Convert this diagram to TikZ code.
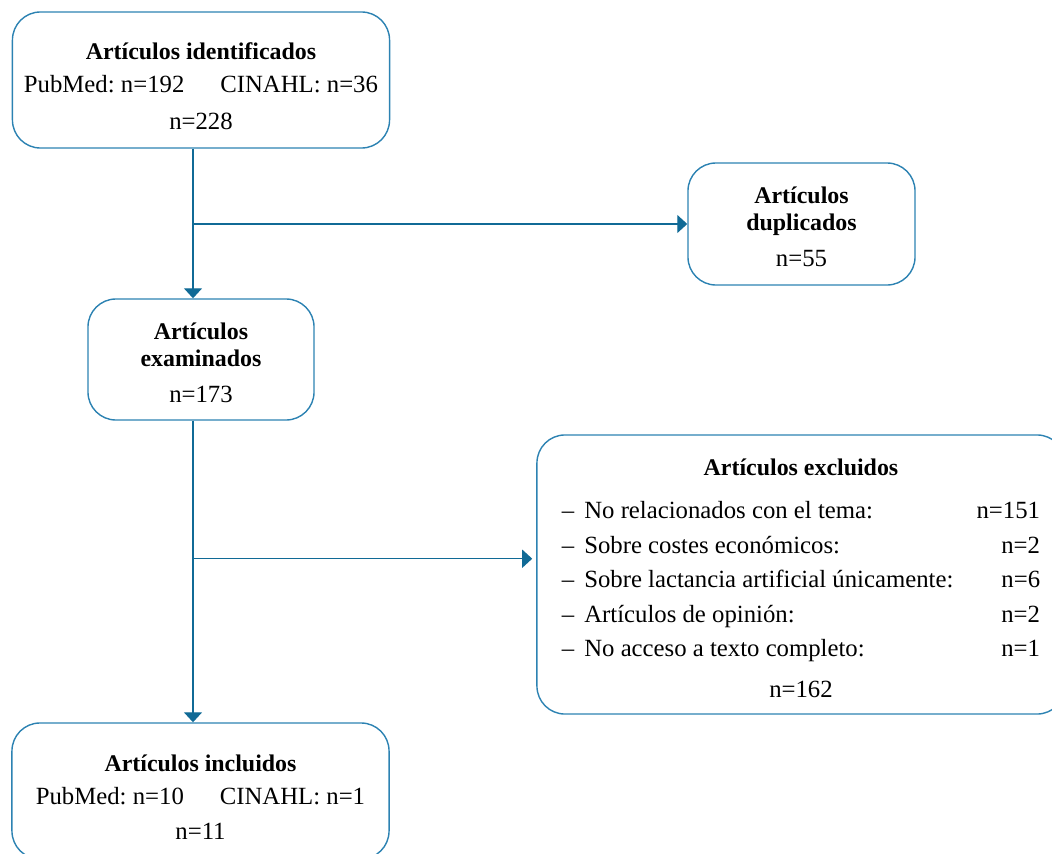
\documentclass[tikz,border=0pt]{standalone}
\usepackage{fontspec}
\setmainfont{Liberation Serif}
\usetikzlibrary{arrows.meta,calc}
\definecolor{flowblue}{RGB}{16,106,150}
\definecolor{boxblue}{RGB}{44,130,178}
\newcommand{\boxhead}[1]{{\fontsize{17}{19.2}\selectfont\bfseries #1}}
\frenchspacing

\begin{document}
\begin{tikzpicture}[x=0.025cm,y=-0.025cm,
  box/.style={draw=boxblue,line width=1pt,rounded corners=0.7cm,inner sep=0pt},
  txt/.style={align=center,inner sep=0pt,font=\fontsize{17.6}{19.2}\selectfont},
  flow/.style={draw=flowblue,line width=1pt,-{Triangle[length=0.25cm,width=0.45cm]}}]
\useasboundingbox (0,0) rectangle (1052,854);

% draw identified box
\node[box,minimum width=9.425cm,minimum height=3.4cm] (ident) at (201,80) {};
\node[txt] (ident-txt) at ($(ident)+(0,6)$) {\boxhead{Artículos identificados}\\[4.3pt]
  PubMed: n=192\hspace{0.9cm}CINAHL: n=36\\[7pt] n=228};

% draw duplicated box
\node[box,minimum width=5.675cm,minimum height=3.05cm] (dup) at (801.5,224) {};
\node[txt] (dup-txt) at ($(dup)+(0,3)$) {\boxhead{Artículos}\\\boxhead{duplicados}\\[6.4pt] n=55};

% draw screened box
\node[box,minimum width=5.65cm,minimum height=3.025cm] (exam) at (201,359.5) {};
\node[txt] (exam-txt) at ($(exam)+(0,3)$) {\boxhead{Artículos}\\\boxhead{examinados}\\[6.4pt] n=173};

% draw excluded box
\node[box,minimum width=13.2cm,minimum height=6.975cm] (excl) at (801,574.5) {};
\node[txt] (excl-txt) at ($(excl)+(0,5)$) {\renewcommand{\arraystretch}{1.28}%
  \begin{tabular*}{11.95cm}{@{}l@{\hspace{0.25cm}}l@{\extracolsep{\fill}}r@{}}
  \multicolumn{3}{c}{\boxhead{Artículos excluidos}}\\[6pt]
  – & No relacionados con el tema: & n=151\\
  – & Sobre costes económicos: & n=2\\
  – & Sobre lactancia artificial únicamente: & n=6\\
  – & Artículos de opinión: & n=2\\
  – & No acceso a texto completo: & n=1\\[4pt]
  \multicolumn{3}{c}{n=162}
  \end{tabular*}};

% draw included box
\node[box,minimum width=9.425cm,minimum height=3.4cm] (incl) at (200.5,791) {};
\node[txt] (incl-txt) at ($(incl)+(0,6)$) {\boxhead{Artículos incluidos}\\[4.3pt]
  PubMed: n=10\hspace{0.9cm}CINAHL: n=1\\[5.7pt] n=11};

% draw connectors
\coordinate (trunk1) at ($(ident.south)+(-8,0)$);
\coordinate (trunk2) at ($(exam.south)+(-8,0)$);
\coordinate (split2) at ($(trunk2)+(0,138)$);
\draw[flow] (trunk1) -- (trunk1 |- exam.north);
\draw[flow] (trunk1 |- dup.west) -- (dup.west);
\draw[flow] (trunk2) -- (trunk2 |- incl.north);
\draw[flow,shorten >=0.1cm] (split2) -- (split2 -| excl.west);

\end{tikzpicture}
\end{document}
